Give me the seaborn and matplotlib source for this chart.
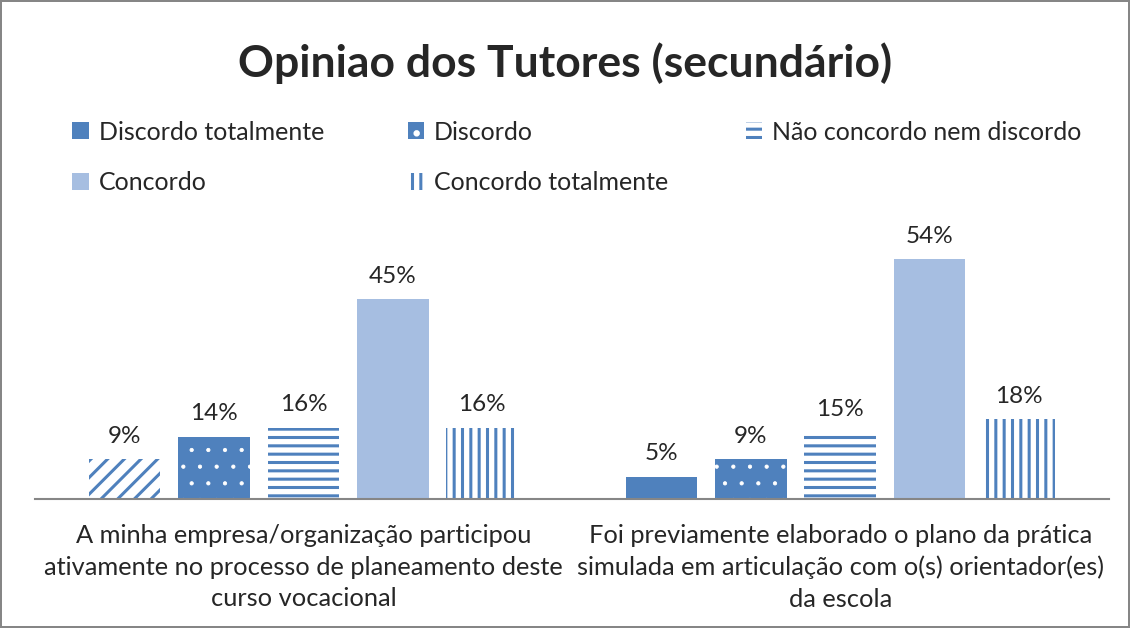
import seaborn as sns
import pandas as pd
import numpy as np
import matplotlib.pyplot as plt
from matplotlib.patches import Patch

# data
categories = [
    "A minha empresa/organização participou\nativamente no processo de planeamento deste\ncurso vocacional",
    "Foi previamente elaborado o plano da prática\nsimulada em articulação com o(s) orientador(es)\nda escola",
]
responses = ["Discordo totalmente", "Discordo", "Não concordo nem discordo",
             "Concordo", "Concordo totalmente"]
values_q1 = [9, 14, 16, 45, 16]
values_q2 = [5, 9, 15, 54, 18]

df = pd.DataFrame({
    "pergunta": [categories[0]] * 5 + [categories[1]] * 5,
    "resposta": responses * 2,
    "valor": values_q1 + values_q2,
})

blue = "#4f81bd"
light = "#a6bee1"
# face, edge (hatch colour), hatch for each answer
styles = {
    "Discordo totalmente": (blue, blue, None),
    "Discordo": (blue, "white", "."),
    "Não concordo nem discordo": ("white", blue, "--"),
    "Concordo": (light, light, None),
    "Concordo totalmente": ("white", blue, "||"),
}

sns.set_style("white")
plt.rcParams["font.family"] = ["Lato", "DejaVu Sans"]
plt.rcParams["hatch.linewidth"] = 2.2


def style_patch(p, resp):
    face, edge, hatch = styles[resp]
    p.set_facecolor(face)
    p.set_edgecolor(edge)
    p.set_linewidth(0)
    p.set_hatch(hatch)
    if hatch == "." and hasattr(p, "set_hatch_linewidth"):
        p.set_hatch_linewidth(0.6)


fig = plt.figure(figsize=(11.3, 6.28), dpi=100)
fig.patch.set_edgecolor("#868686")
fig.patch.set_linewidth(1.5)
ax = fig.add_axes([0.031, 0.2054, 0.95, 0.4246])

sns.barplot(data=df, x="pergunta", y="valor", hue="resposta", hue_order=responses,
            order=categories, width=0.833, gap=0.2, legend=False, ax=ax)

for i, resp in enumerate(responses):
    for j, bar in enumerate(ax.containers[i]):
        style_patch(bar, resp)
        if i == 0 and j == 0:
            # first bar of first question is striped in the original
            bar.set_facecolor("white")
            bar.set_edgecolor(blue)
            bar.set_hatch("//")
    ax.bar_label(ax.containers[i], labels=[f"{v:.0f}%" for v in ax.containers[i].datavalues],
                 padding=9, fontsize=17.5)

ax.set_ylim(0, 60)
ax.set_xlim(-0.5, 1.5)
ax.set_xlabel("")
ax.set_ylabel("")
ax.set_yticks([])
for s in ["top", "left", "right"]:
    ax.spines[s].set_visible(False)
ax.spines["bottom"].set_color("#868686")
ax.spines["bottom"].set_linewidth(1.5)
ax.tick_params(axis="x", length=0, pad=18, labelsize=18.3)
for t in ax.get_xticklabels():
    t.set_linespacing(1.45)

fig.text(0.5, 0.9, "Opiniao dos Tutores (secundário)", ha="center", va="center",
         fontsize=32, fontweight="bold")


# legend: three columns placed like the original
def handle(resp):
    p = Patch()
    style_patch(p, resp)
    return p


cols = [(0.064, ["Discordo totalmente", "Concordo"]),
        (0.361, ["Discordo", "Concordo totalmente"]),
        (0.660, ["Não concordo nem discordo"])]
for x, items in cols:
    fig.legend([handle(r) for r in items], items, loc="upper left",
               bbox_to_anchor=(x, 0.808), frameon=False, fontsize=18,
               handlelength=0.65, handleheight=0.65, handletextpad=0.4,
               labelspacing=1.1, borderaxespad=0, borderpad=0)

fig.savefig("out.png", dpi=100)
